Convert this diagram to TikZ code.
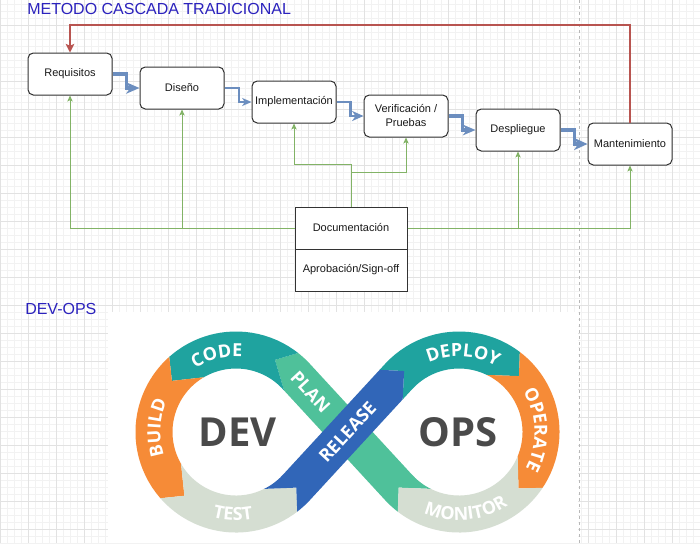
\documentclass[tikz,border=0pt]{standalone}
\usepackage{fontspec}
\setmainfont{Liberation Sans}
\newfontfamily\dvfont{Open Sans}
\usetikzlibrary{arrows.meta,calc,decorations.text}
\definecolor{gridmaj}{HTML}{E2E2E2}
\definecolor{gridmin}{HTML}{F2F2F2}
\definecolor{titleblue}{HTML}{2B22BD}
\definecolor{boxline}{HTML}{333333}
\definecolor{flowblue}{HTML}{6C8EBF}
\definecolor{backred}{HTML}{B85450}
\definecolor{docgreen}{HTML}{82B366}
\definecolor{dvteal}{HTML}{1FA39F}
\definecolor{dvorange}{HTML}{F68B37}
\definecolor{dvlight}{HTML}{D5DED2}
\definecolor{dvgreen}{HTML}{4FC19A}
\definecolor{dvblue}{HTML}{3166B8}
\definecolor{dvtext}{HTML}{4A4A4A}
% clip for one ribbon segment: tail tip, tail dir, head tip, head dir, mid point, mid dir
\newcommand{\dvclip}[6]{%
  \clip (#1) -- ($(#1)+({#2-135}:48)$) -- ($(#5)+({#6-90}:150)$) -- ($(#3)+({#4-135}:48)$) -- (#3)
   -- ($(#3)+({#4+135}:48)$) -- ($(#5)+({#6+90}:150)$) -- ($(#1)+({#2+135}:48)$) -- cycle;}
\tikzset{
  stagebox/.style={draw=boxline, line width=0.75pt, rounded corners=4pt, fill=white,
    minimum width=63pt, minimum height=31.5pt, inner sep=0pt, align=center,
    font=\fontsize{8.25}{10.5}\selectfont, text=black!90},
  docbox/.style={draw=boxline, line width=0.75pt, fill=white,
    minimum width=84pt, minimum height=31.5pt, inner sep=0pt,
    font=\fontsize{8.25}{10.5}\selectfont, text=black!90},
  flow/.style={draw=flowblue, line join=miter},
  backedge/.style={draw=backred, line width=1.5pt, -{Stealth[length=6.5pt,width=6.5pt,inset=1.5pt]}},
  docedge/.style={draw=docgreen, line width=0.75pt, -{Stealth[length=4.5pt,width=4pt,inset=1pt]}},
  dvband/.style={line width=27.75pt, line cap=butt},
  dvlabel/.style={decorate, decoration={text along path, text align=center, text color=white,
    text={|\dvfont\bfseries\fontsize{13.5}{14}\selectfont|#1}}},
  dvstraight/.style={font=\dvfont\bfseries\fontsize{13.5}{14}\selectfont, text=white, inner sep=0pt},
  bigword/.style={font=\dvfont\bfseries\fontsize{30}{32}\selectfont, text=dvtext, inner sep=0pt},
  heading/.style={anchor=base west, text=titleblue, font=\fontsize{12}{14}\selectfont, inner sep=0pt}
}
\begin{document}
\begin{tikzpicture}[x=0.75pt,y=-0.75pt]
\useasboundingbox (0,0) rectangle (700,543);
\fill[white] (0,0) rectangle (700,543);
% grid
\foreach \gx in {0,7,...,700} \draw[gridmin, line width=0.6pt] (\gx,0) -- (\gx,543);
\foreach \gy in {4,11,...,543} \draw[gridmin, line width=0.6pt] (0,\gy) -- (700,\gy);
\foreach \gx in {0,28,...,700} \draw[gridmaj, line width=0.75pt] (\gx,0) -- (\gx,543);
\foreach \gy in {25,53,...,543} \draw[gridmaj, line width=0.75pt] (0,\gy) -- (700,\gy);
% image area
\fill[white] (108,312) rectangle (578,543);
\draw[black!28, line width=0.75pt, dash pattern=on 2.25pt off 2.25pt] (579.5,0) -- (579.5,543);

% ---------- Waterfall ----------
\node[heading] (t1) at (27,14) {METODO CASCADA TRADICIONAL};
\node[heading] (t2) at (25,314) {DEV-OPS};

\node[stagebox] (req) at (70,74) {Requisitos};
\node[stagebox] (dis) at (182,88) {Diseño};
\node[stagebox] (imp) at (294,102) {Implementación};
\node[stagebox] (ver) at (406,116) {Verificación /\\Pruebas};
\node[stagebox] (des) at (518,130) {Despliegue};
\node[stagebox] (man) at (630,144) {Mantenimiento};
\node[docbox] (doc) at (351,228) {Documentación};
\node[docbox] (apr) at (351,270) {Aprobación/Sign-off};

\draw[flow, line width=2.3pt, -{Stealth[length=10pt,width=8.5pt,inset=3pt]}] (req.east) -- ++(14,0) |- (dis.west);
\draw[flow, line width=1.5pt, -{Stealth[length=7pt,width=6pt,inset=2pt]}] (dis.east) -- ++(14,0) |- (imp.west);
\draw[flow, line width=1.8pt, -{Stealth[length=8.5pt,width=7.5pt,inset=2.5pt]}] (imp.east) -- ++(14,0) |- (ver.west);
\draw[flow, line width=2.3pt, -{Stealth[length=9.5pt,width=8pt,inset=3pt]}] (ver.east) -- ++(14,0) |- (des.west);
\draw[flow, line width=2.3pt, -{Stealth[length=10pt,width=9pt,inset=3pt]}] (des.east) -- ++(14,0) |- (man.west);

\draw[backedge] (man.north) -- ++(0,-98) -| (req.north);

\draw[docedge] (doc.north) -- ++(0,-42) -| (imp.south);
\draw[docedge] (doc.north) -- ++(0,-34) -| (ver.south);
\draw[docedge] (doc.west) -| (req.south);
\draw[docedge] (doc.west) -| (dis.south);
\draw[docedge] (doc.east) -| (des.south);
\draw[docedge] (doc.east) -| (man.south);

% ---------- DevOps infinity ----------
\coordinate (Lc) at (236,432);
\coordinate (Rc) at (459,432);
\coordinate (X) at (347.5,432);
\coordinate (b1) at ($(Lc)+(-61.6:82)$);
\coordinate (b2) at ($(Lc)+(-141.4:82)$);
\coordinate (b3) at ($(Lc)+(129:82)$);
\coordinate (b4) at ($(Lc)+(42.7:82)$);
\coordinate (b5) at ($(Rc)+(-132:82)$);
\coordinate (b6) at ($(Rc)+(-43:82)$);
\coordinate (b7) at ($(Rc)+(43.5:82)$);
\coordinate (b8) at ($(Rc)+(137.3:82)$);
\coordinate (tu) at ($(Lc)+(-42.7:82)$);
\coordinate (tur) at ($(Rc)+(-137.3:82)$);
\coordinate (mcode) at ($(Lc)+(-101.5:82)$);
\coordinate (mbuild) at ($(Lc)+(-186.2:82)$);
\coordinate (mtest) at ($(Lc)+(85.85:82)$);
\coordinate (mdeploy) at ($(Rc)+(-87.5:82)$);
\coordinate (moperate) at ($(Rc)+(0.25:82)$);
\coordinate (mmonitor) at ($(Rc)+(90.4:82)$);

% PLAN
\begin{scope}
\dvclip{b8}{-132.7}{b1}{-151.6}{X}{-132.7}
\draw[dvband, draw=dvgreen] ($(Rc)+(107.3:82)$) arc[start angle=107.3, end angle=137.3, radius=82] -- (tu) arc[start angle=-42.7, end angle=-63.6, radius=82];
\end{scope}
% CODE
\begin{scope}
\dvclip{b1}{-151.6}{b2}{-231.4}{mcode}{-191.5}
\draw[dvband, draw=dvteal] ($(Lc)+(-36:82)$) arc[start angle=-36, end angle=-143.4, radius=82];
\end{scope}
% BUILD
\begin{scope}
\dvclip{b2}{-231.4}{b3}{39}{mbuild}{-276.2}
\draw[dvband, draw=dvorange] ($(Lc)+(-111.4:82)$) arc[start angle=-111.4, end angle=-233, radius=82];
\end{scope}
% TEST
\begin{scope}
\dvclip{b3}{39}{b4}{-47.3}{mtest}{-4.15}
\draw[dvband, draw=dvlight] ($(Lc)+(159:82)$) arc[start angle=159, end angle=40.7, radius=82];
\end{scope}
% DEPLOY
\begin{scope}
\dvclip{b5}{-42}{b6}{47}{mdeploy}{2.5}
\draw[dvband, draw=dvteal] ($(tur)+(132.7:30)$) -- (tur) arc[start angle=-137.3, end angle=-41, radius=82];
\end{scope}
% OPERATE
\begin{scope}
\dvclip{b6}{47}{b7}{133.5}{moperate}{90.25}
\draw[dvband, draw=dvorange] ($(Rc)+(-73:82)$) arc[start angle=-73, end angle=45.5, radius=82];
\end{scope}
% MONITOR
\begin{scope}
\dvclip{b7}{133.5}{b8}{227.3}{mmonitor}{180.4}
\draw[dvband, draw=dvlight] ($(Rc)+(13.5:82)$) arc[start angle=13.5, end angle=139.3, radius=82];
\end{scope}
% RELEASE (on top)
\begin{scope}
\dvclip{b4}{-47.3}{b5}{-42}{X}{-47.3}
\draw[dvband, draw=dvblue] ($(Lc)+(72.7:82)$) arc[start angle=72.7, end angle=42.7, radius=82] -- (tur) arc[start angle=-137.3, end angle=-130, radius=82];
\end{scope}

% labels along the ribbon
\path[dvlabel=CODE] ($(Lc)+(-140:75.6)$) arc[start angle=-140, end angle=-68, radius=75.6];
\path[dvlabel=BUILD] ($(Lc)+(150:75.6)$) arc[start angle=150, end angle=216, radius=75.6];
\path[dvlabel=TEST] ($(Lc)+(122:88.4)$) arc[start angle=122, end angle=62, radius=88.4];
\path[dvlabel=DEPLOY] ($(Rc)+(-125:75.6)$) arc[start angle=-125, end angle=-49, radius=75.6];
\path[dvlabel=OPERATE] ($(Rc)+(-47:75.6)$) arc[start angle=-47, end angle=43, radius=75.6];
\path[dvlabel=MONITOR] ($(Rc)+(130:88.4)$) arc[start angle=130, end angle=40, radius=88.4];
\node[dvstraight, rotate=-47.3] (plantxt) at ($(tu)+(47.3:21)$) {PLAN};
\node[dvstraight, rotate=47.3] (reltxt) at (X) {RELEASE};

\node[bigword] (devword) at (237.5,432) {DEV};
\node[bigword] (opsword) at (458,432) {OPS};
\end{tikzpicture}
\end{document}
